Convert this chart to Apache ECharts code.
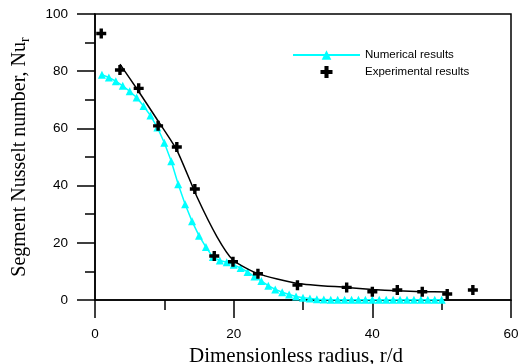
<!DOCTYPE html>
<html>
<head>
<meta charset="utf-8">
<script src="https://cdn.jsdelivr.net/npm/echarts@6/dist/echarts.min.js"></script>
<style>html,body{margin:0;padding:0;background:#fff;}#c{width:523px;height:364px;}</style>
</head>
<body>
<div id="c"></div>
<script>
// Numerical results (cyan triangles)
var numX = [1,2,3,4,5,6,7,8,9,10,11,12,13,14,15,16,17,18,19,20,21,22,23,24,25,26,27,28,29,30,31,32,33,34,35,36,37,38,39,40,41,42,43,44,45,46,47,48,49,50];
var numY = [78.8,77.8,76.5,74.9,73.0,70.8,67.8,64.5,60.3,55.0,48.5,40.5,33.5,27.5,22.5,18.5,15.0,13.8,13.2,12.3,11.2,9.8,8.2,6.6,5.0,3.7,2.7,1.9,1.2,0.8,0.5,0.3,0.2,0.1,0.1,0.1,0.1,0.1,0.1,0.1,0.1,0.1,0.1,0.1,0.1,0.1,0.1,0.1,0.1,0.1];
// Experimental results (black crosses)
var expX = [0.9,3.6,6.3,9.1,11.8,14.4,17.2,19.9,23.5,29.2,36.3,40.0,43.6,47.2,50.8,54.5];
var expY = [93.2,80.4,74.0,60.9,53.5,38.8,15.4,13.4,9.2,5.2,4.4,2.9,3.5,2.9,2.1,3.5];
// Fitted curve through experimental results (black line)
var fitX = [3.6,6.3,9.1,11.8,14.7,17.6,19.9,23.4,29.2,36.3,40.0,43.6,47.2,50.8];
var fitY = [82.5,72.9,62.6,52.4,36.1,22.1,14.0,9.3,5.8,4.4,3.7,3.2,2.9,2.8];
var xTicks = [0,20,40,60];
var yTicks = [0,20,40,60,80,100];

function pairs(xs, ys){ return xs.map(function(x,i){ return [x, ys[i]]; }); }
var cross = 'path://M3.3,0H6.7V3.3H10V6.7H6.7V10H3.3V6.7H0V3.3H3.3Z';

var chart = echarts.init(document.getElementById('c'), null, {renderer:'canvas'});
chart.setOption({
  animation: false,
  backgroundColor: '#fff',
  grid: {left: 95, right: 12, top: 14, bottom: 64, outerBoundsMode: 'none', containLabel: false,
         show: true, borderColor: '#000', borderWidth: 1.5, backgroundColor: 'transparent'},
  legend: {
    orient: 'vertical', left: 287, top: 44, itemWidth: 67, itemHeight: 12, itemGap: 5,
    textStyle: {fontFamily: 'Liberation Sans, Arial, sans-serif', fontSize: 11.5, color: '#000'},
    data: [
      {name: 'Numerical results'},
      {name: 'Experimental results', icon: cross}
    ]
  },
  xAxis: {
    type: 'value', min: xTicks[0], max: xTicks[xTicks.length-1], interval: 20,
    name: 'Dimensionless radius, r/d', nameLocation: 'middle', nameGap: 41,
    nameTextStyle: {fontFamily: 'Liberation Serif, Times New Roman, serif', fontSize: 21, color: '#000', padding: [0, 14, 0, 0]},
    axisLine: {lineStyle: {color: '#000', width: 1.5}},
    axisTick: {show: true, length: 18, lineStyle: {color: '#000', width: 1.5}},
    minorTick: {show: true, splitNumber: 2, length: 10, lineStyle: {color: '#000', width: 1.5}},
    axisLabel: {margin: 27, fontFamily: 'Liberation Sans, Arial, sans-serif', fontSize: 13.5, color: '#000'},
    splitLine: {show: false}
  },
  yAxis: {
    type: 'value', min: yTicks[0], max: yTicks[yTicks.length-1], interval: 20,
    name: 'Segment Nusselt number, Nu{sub|r}', nameLocation: 'middle', nameGap: 63,
    nameTextStyle: {fontFamily: 'Liberation Serif, Times New Roman, serif', fontSize: 20, color: '#000', lineHeight: 24,
      rich: {sub: {fontFamily: 'Liberation Serif, Times New Roman, serif', fontSize: 14, color: '#000', verticalAlign: 'bottom', lineHeight: 14}}},
    axisLine: {lineStyle: {color: '#000', width: 1.5}},
    axisTick: {show: true, length: 18, lineStyle: {color: '#000', width: 1.5}},
    minorTick: {show: true, splitNumber: 2, length: 10, lineStyle: {color: '#000', width: 1.5}},
    axisLabel: {margin: 27, fontFamily: 'Liberation Sans, Arial, sans-serif', fontSize: 13.5, color: '#000'},
    splitLine: {show: false}
  },
  series: [
    {name: 'Numerical results', type: 'line', data: pairs(numX, numY), symbol: 'triangle', symbolSize: 8,
     showAllSymbol: true, lineStyle: {color: '#00FFFF', width: 1.5}, itemStyle: {color: '#00FFFF', opacity: 1}, z: 2},
    {name: 'fit', type: 'line', data: pairs(fitX, fitY), showSymbol: false, symbol: 'none', smooth: 0.2,
     lineStyle: {color: '#000', width: 1.5}, itemStyle: {color: '#000'}, z: 3},
    {name: 'Experimental results', type: 'scatter', data: pairs(expX, expY), symbol: cross, symbolSize: 10,
     symbolKeepAspect: true, itemStyle: {color: '#000', opacity: 1}, z: 4}
  ]
});
</script>
</body>
</html>
